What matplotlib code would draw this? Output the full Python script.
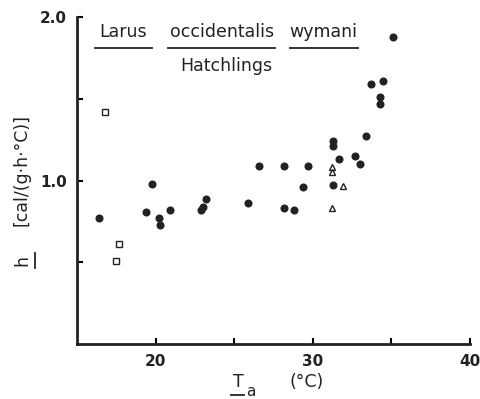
import matplotlib.pyplot as plt

# ambient temperature (deg C) and thermal conductance h
circle_x = [16.4, 19.8, 19.4, 20.2, 20.3, 20.9, 22.9, 23.0, 23.2, 25.9, 26.6,
            28.2, 28.2, 28.8, 29.4, 29.7, 31.3, 31.3, 31.3, 31.7, 32.7, 33.0,
            33.4, 33.7, 34.3, 34.3, 34.5, 35.1]
circle_y = [0.77, 0.98, 0.81, 0.77, 0.73, 0.82, 0.82, 0.84, 0.89, 0.86, 1.09,
            1.09, 0.83, 0.82, 0.96, 1.09, 0.97, 1.21, 1.24, 1.13, 1.15, 1.10,
            1.27, 1.59, 1.51, 1.47, 1.61, 1.88]
square_x = [16.8, 17.7, 17.5]
square_y = [1.42, 0.61, 0.51]
triangle_x = [31.2, 31.2, 31.9, 31.2]
triangle_y = [1.085, 1.05, 0.965, 0.83]

plt.rcParams['font.family'] = 'DejaVu Sans'

fig = plt.figure(figsize=(4.81, 3.99), dpi=100)
ax = fig.add_axes([0.16, 0.138, 0.817, 0.819])

ax.plot(circle_x, circle_y, 'o', color='#222222', markersize=4.8)
ax.plot(square_x, square_y, 's', mfc='white', mec='#222222', markersize=4.5, mew=1)
ax.plot(triangle_x, triangle_y, '^', mfc='white', mec='#222222', markersize=4.5, mew=1)

ax.set_xlim(15, 40)
ax.set_ylim(0, 2.0)
ax.set_xticks([20, 25, 30, 35, 40])
ax.set_xticklabels(['20', '', '30', '', '40'])
ax.set_yticks([0.5, 1.0, 1.5, 2.0])
ax.set_yticklabels(['', '1.0', '', '2.0'])
ax.tick_params(direction='in', length=4, width=1.5, labelsize=11, pad=7)
for lab in ax.get_xticklabels() + ax.get_yticklabels():
    lab.set_fontweight('bold')
    lab.set_color('#222222')
for s in ['top', 'right']:
    ax.spines[s].set_visible(False)
for s in ['left', 'bottom']:
    ax.spines[s].set_linewidth(2)
    ax.spines[s].set_color('#222222')

# title words, each underlined
words = [('Larus', 0.118, 0.046, 0.191),
         ('occidentalis', 0.368, 0.232, 0.504),
         ('wymani', 0.628, 0.542, 0.715)]
for w, cx, x0, x1 in words:
    ax.text(cx, 0.955, w, transform=ax.transAxes, ha='center', va='center',
            fontsize=12.5, color='#222222')
    ax.plot([x0, x1], [0.905, 0.905], transform=ax.transAxes, color='#222222',
            lw=1.3, clip_on=False)
ax.text(0.38, 0.85, 'Hatchlings', transform=ax.transAxes, ha='center',
        va='center', fontsize=12.5, color='#222222')

# y label
fig.text(22 / 481, 1 - 170 / 399, '[cal/(g·h·°C)]', rotation=90, ha='center',
         va='center', fontsize=12.5, color='#222222')
fig.text(22 / 481, 1 - 260 / 399, 'h', rotation=90, ha='center', va='center',
         fontsize=12.5, color='#222222')
fig.add_artist(plt.Line2D([35 / 481, 35 / 481], [1 - 253 / 399, 1 - 268 / 399],
                          color='#222222', lw=1.3))

# x label
fig.text(238 / 481, 1 - 382 / 399, 'T', ha='center', va='center', fontsize=12.5,
         color='#222222')
fig.text(251 / 481, 1 - 391 / 399, 'a', ha='center', va='center', fontsize=11,
         color='#222222')
fig.add_artist(plt.Line2D([231 / 481, 244 / 481], [1 - 395 / 399, 1 - 395 / 399],
                          color='#222222', lw=1.3))
fig.text(307 / 481, 1 - 382 / 399, '(°C)', ha='center', va='center',
         fontsize=12.5, color='#222222')

fig.savefig('out.png', dpi=100)
